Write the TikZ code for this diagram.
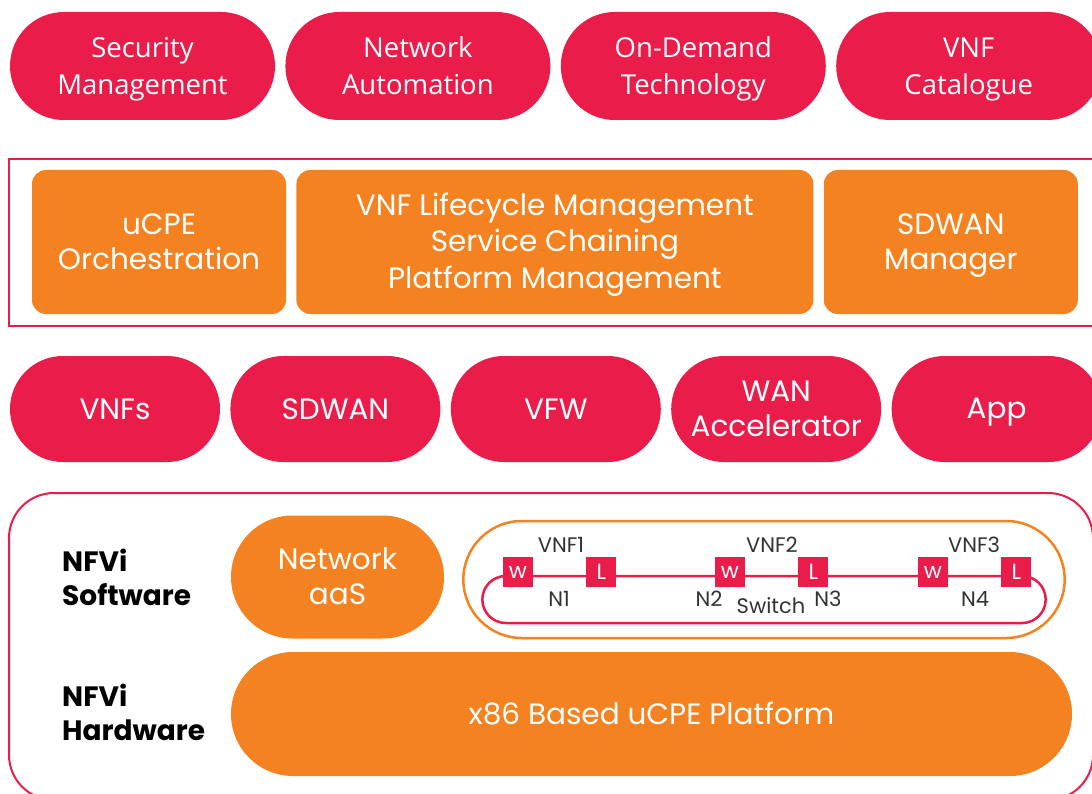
\documentclass[tikz,border=0pt]{standalone}
\usepackage{fontspec}
\setmainfont{Poppins}
\newfontfamily\humanist{Open Sans}
\usetikzlibrary{positioning,shapes.misc}
\definecolor{crimson}{RGB}{233,28,74}
\definecolor{tangerine}{RGB}{245,130,32}
\newcommand{\pillstrut}{\rule[-7.5pt]{0pt}{35pt}}

\tikzset{
  toppill/.style={rounded rectangle, fill=crimson, text=white, align=center, inner sep=0pt,
                  minimum width=265pt, minimum height=108pt, font=\humanist\fontsize{27.5}{37}\selectfont},
  vnfpill/.style={rounded rectangle, fill=crimson, text=white, align=center, inner sep=0pt,
                  minimum width=210pt, minimum height=106pt, font=\fontsize{29.5}{35}\selectfont},
  mgmtbox/.style={rounded corners=14pt, fill=tangerine, text=white, align=center, inner sep=0pt,
                  minimum height=144pt, font=\fontsize{29.5}{35}\selectfont},
  platpill/.style={rounded rectangle, fill=tangerine, text=white, align=center, inner sep=0pt,
                   font=\fontsize{29.5}{35}\selectfont},
  layerframe/.style={draw=crimson, line width=2pt},
  layerlabel/.style={anchor=west, align=left, inner sep=0pt, font=\bfseries\fontsize{28}{34}\selectfont},
  portbox/.style={fill=crimson, text=white, minimum size=30pt, inner sep=0pt, font=\fontsize{22}{22}\selectfont},
  portlabel/.style={text=black!80, inner sep=0pt, font=\fontsize{21}{21}\selectfont}
}

\begin{document}
\begin{tikzpicture}[x=1pt, y=-1pt]
  \useasboundingbox (0,0) rectangle (1092,794);
  \clip (0,0) rectangle (1092,794);

  % Top row of services
  \node (secmgmt) [toppill] at (142.5,66) {\pillstrut Security\\\pillstrut Management};
  \node (netauto) [toppill, right=10pt of secmgmt] {\pillstrut Network\\\pillstrut Automation};
  \node (ondemand) [toppill, right=10pt of netauto] {\pillstrut On-Demand\\\pillstrut Technology};
  \node (catalogue) [toppill, right=10pt of ondemand] {\pillstrut VNF\\\pillstrut Catalogue};

  % Orchestration layer
  \draw[layerframe] (9,159) rectangle (1100,326);
  \node (ucpeorch) [mgmtbox, minimum width=254pt] at (159,242) {\pillstrut uCPE\\\pillstrut Orchestration};
  \node (vnflcm) [mgmtbox, minimum width=517pt, right=10pt of ucpeorch]
        {\pillstrut VNF Lifecycle Management\\\pillstrut Service Chaining\\\pillstrut Platform Management};
  \node (sdwanmgr) [mgmtbox, minimum width=254pt, right=10pt of vnflcm] {\pillstrut SDWAN\\\pillstrut Manager};

  % VNF row
  \node (vnfs) [vnfpill] at (115,409) {\pillstrut VNFs};
  \node (sdwan) [vnfpill, right=10pt of vnfs] {\pillstrut SDWAN};
  \node (vfw) [vnfpill, right=10pt of sdwan] {\pillstrut VFW};
  \node (wanacc) [vnfpill, right=10pt of vfw] {\pillstrut WAN\\\pillstrut Accelerator};
  \node (app) [vnfpill, right=10pt of wanacc] {\pillstrut App};

  % NFVi layer
  \draw[layerframe, rounded corners=45pt] (9,493) rectangle (1093,800);
  \node (swlabel) [layerlabel] at (62,581.5) {\strut NFVi\\\strut Software};
  \node (hwlabel) [layerlabel] at (62,716.5) {\strut NFVi\\\strut Hardware};
  \node (netaas) [platpill, minimum width=213pt, minimum height=123pt] at (337.5,577) {\pillstrut Network\\\pillstrut aaS};
  \node (x86) [platpill, minimum width=841pt, minimum height=124pt] at (651.5,714) {\pillstrut x86 Based uCPE Platform};

  % Service chain on the switch
  \node (vnfhost) [rounded rectangle, draw=tangerine, line width=2.5pt,
                   minimum width=608pt, minimum height=117pt] at (764,579.5) {};
  \node (switchloop) [rounded rectangle, draw=crimson, line width=2.5pt,
                      minimum width=570pt, minimum height=47pt] at (764,599.5) {};
  \node (w1) [portbox] at (518,572) {w};
  \node (l1) [portbox, right=53pt of w1] {L};
  \node (w2) [portbox] at (730,572) {w};
  \node (l2) [portbox, right=53pt of w2] {L};
  \node (w3) [portbox] at (933,572) {w};
  \node (l3) [portbox, right=53pt of w3] {L};

  \node (vnf1) [portlabel] at (561,545) {VNF1};
  \node (vnf2) [portlabel] at (772,545) {VNF2};
  \node (vnf3) [portlabel] at (974,545) {VNF3};
  \node (n1) [portlabel] at (559,599) {N1};
  \node (n2) [portlabel] at (709,599) {N2};
  \node (n3) [portlabel] at (828,599) {N3};
  \node (n4) [portlabel] at (975,599) {N4};
  \node (switchlabel) [portlabel] at (771,606) {Switch};

\end{tikzpicture}
\end{document}
